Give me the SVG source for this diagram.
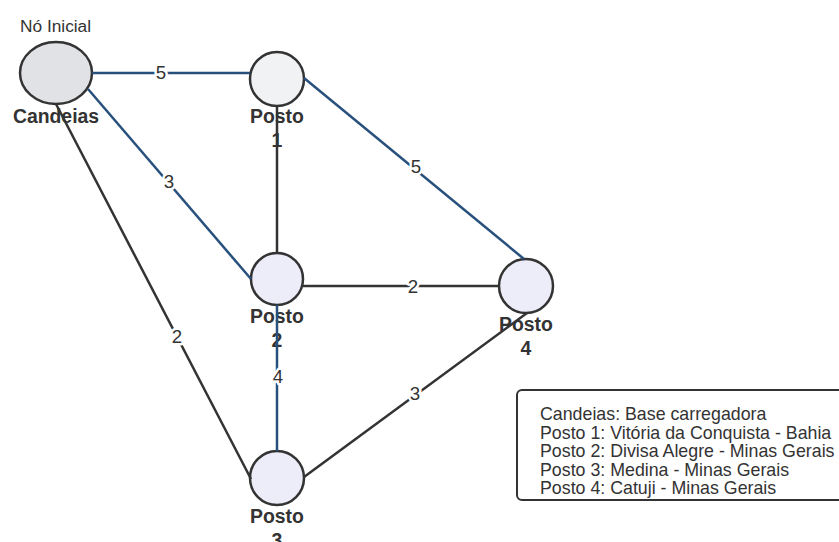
<svg xmlns="http://www.w3.org/2000/svg" width="839" height="542" viewBox="0 0 839 542">
<style>
text{font-family:"Liberation Sans",Arial,sans-serif;fill:#333333}
.nl{font-size:19.4px;font-weight:bold;text-anchor:middle}
.el{font-size:18.7px;text-anchor:middle;stroke:#ffffff;stroke-width:5px;paint-order:stroke;stroke-linejoin:round}
.blue{stroke:#28507c;stroke-width:2.5;fill:none}
.dark{stroke:#333333;stroke-width:2.5;fill:none}
.node{stroke:#333333;stroke-width:2.5}
.lg{font-size:17.8px}
</style>
<rect width="839" height="542" fill="#ffffff"/>
<g id="nodes">
<g id="candeias">
<ellipse class="node" cx="56" cy="73" rx="36" ry="31" fill="#e0e2e6"/>
<text class="nl" x="56" y="123">Candeias</text>
</g>
<g id="posto1">
<circle class="node" cx="277" cy="79" r="27" fill="#f1f2f4"/>
<text class="nl" x="277" y="123">Posto</text>
<text class="nl" x="277" y="147">1</text>
</g>
<g id="posto2">
<circle class="node" cx="277" cy="279" r="26" fill="#ededfa"/>
<text class="nl" x="277" y="323">Posto</text>
<text class="nl" x="277" y="347">2</text>
</g>
<g id="posto4">
<circle class="node" cx="526" cy="286" r="27" fill="#ededfa"/>
<text class="nl" x="526" y="331">Posto</text>
<text class="nl" x="526" y="355">4</text>
</g>
<g id="posto3">
<circle class="node" cx="277" cy="478" r="27" fill="#ededfa"/>
<text class="nl" x="277" y="523">Posto</text>
<text class="nl" x="277" y="547">3</text>
</g>
</g>
<g id="connectors">
<line class="blue" x1="92" y1="73" x2="250" y2="73"/>
<line class="blue" x1="88" y1="89" x2="251" y2="279"/>
<line class="dark" x1="56" y1="104" x2="251" y2="479"/>
<line class="dark" x1="277" y1="106" x2="277" y2="253"/>
<line class="blue" x1="304" y1="78" x2="524" y2="259"/>
<line class="dark" x1="303" y1="286" x2="499" y2="286"/>
<line class="blue" x1="277" y1="305" x2="277" y2="451"/>
<line class="dark" x1="304" y1="477" x2="527" y2="313"/>
<text class="el" x="161" y="79">5</text>
<text class="el" x="169" y="188">3</text>
<text class="el" x="177" y="343">2</text>
<text class="el" x="416" y="173">5</text>
<text class="el" x="413" y="293">2</text>
<text class="el" x="278" y="383">4</text>
<text class="el" x="415" y="400">3</text>
</g>
<g id="title">
<text x="20" y="32" style="font-size:17.3px">Nó Inicial</text>
</g>
<g id="legend">
<rect x="517" y="390" width="340" height="110" rx="5" fill="#ffffff" stroke="#333333" stroke-width="2"/>
<text class="lg" x="540" y="420">Candeias: Base carregadora</text>
<text class="lg" x="540" y="438.6">Posto 1: Vitória da Conquista - Bahia</text>
<text class="lg" x="540" y="457.2">Posto 2: Divisa Alegre - Minas Gerais</text>
<text class="lg" x="540" y="475.8">Posto 3: Medina - Minas Gerais</text>
<text class="lg" x="540" y="494.4">Posto 4: Catuji - Minas Gerais</text>
</g>
</svg>
